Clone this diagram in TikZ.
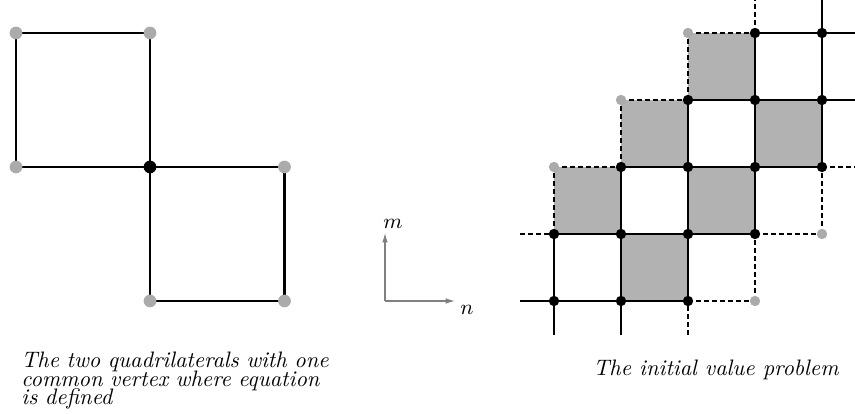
\documentclass[tikz,border=0pt]{standalone}
\usetikzlibrary{backgrounds,arrows.meta}
\begin{document}
\begin{tikzpicture}[x=0.0149254cm,y=-0.0149254cm,
  sedge/.style={line width=0.85pt,black},
  ledge/.style={line width=0.95pt,black,line join=miter},
  dedge/.style={line width=0.45pt,black,dash pattern=on 2pt off 1.4pt},
  bdot/.style={circle,fill=black,draw=none,inner sep=0pt,minimum size=4.4pt},
  gdot/.style={circle,fill=black!33,draw=none,inner sep=0pt,minimum size=4.4pt},
  lbdot/.style={bdot,minimum size=5.4pt},
  lgdot/.style={gdot,minimum size=5.4pt},
  cell/.style={fill=black!30,draw=none},
  axis/.style={draw=black!50,line width=0.5pt,-{Latex[length=4pt,width=2.4pt]}},
  captext/.style={inner sep=0pt,font=\fontsize{9.5}{7.8}\selectfont\itshape,
    execute at begin node={\lineskiplimit=-5pt\relax}},
  lbl/.style={inner sep=0pt,font=\fontsize{9.5}{11}\selectfont}
]
\useasboundingbox (0,0) rectangle (855,414);

% ---- left: two quadrilaterals with one common vertex
\node[lgdot] (a1) at (16,33) {};
\node[lgdot] (a2) at (150,33) {};
\node[lgdot] (a3) at (16,167) {};
\node[lbdot] (o)  at (150,167) {};
\node[lgdot] (b1) at (284.5,167) {};
\node[lgdot] (b2) at (150,301) {};
\node[lgdot] (b3) at (284.5,301) {};

% ---- right: lattice
\foreach \c in {0,...,4}{
  \foreach \r in {0,...,4}{
    \pgfmathtruncatemacro{\d}{\c-\r}
    \ifnum\d<-2
      \coordinate (p\c\r) at ({554+67*\c},{301-67*\r});
    \else\ifnum\d>3
      \coordinate (p\c\r) at ({554+67*\c},{301-67*\r});
    \else\ifnum\d=-2
      \node[gdot] (p\c\r) at ({554+67*\c},{301-67*\r}) {};
    \else\ifnum\d=3
      \node[gdot] (p\c\r) at ({554+67*\c},{301-67*\r}) {};
    \else
      \node[bdot] (p\c\r) at ({554+67*\c},{301-67*\r}) {};
    \fi\fi\fi\fi
  }
}
% free ends of the lattice lines
\coordinate (L0) at (520,301);
\coordinate (L1) at (520,234);
\coordinate (R2) at (856,167);
\coordinate (R3) at (856,100);
\coordinate (R4) at (856,33);
\coordinate (T3) at (755,-1);
\coordinate (T4) at (822,-1);
\coordinate (B0) at (554,335);
\coordinate (B1) at (621,335);
\coordinate (B2) at (688,335);

% ---- axes
\coordinate (ax) at (385,301);
\coordinate (axn) at (455,301);
\coordinate (axm) at (385,233);
\node[lbl] (lm) at (393,224) {$m$};
\node[lbl] (ln) at (467,310) {$n$};

% ---- captions
\node[captext,anchor=north west,text width=142pt,align=left] (capL) at (21,352)
  {The two quadrilaterals with one\\common vertex where equation\\is defined};
\node[captext,anchor=base east] (capR) at (839,376) {The initial value problem};

\begin{scope}[on background layer]
  % left squares
  \draw[ledge] (a1.center) -- (a2.center) -- (o.center) -- (a3.center) -- cycle;
  \draw[ledge] (o.center) -- (b1.center) -- (b3.center) -- (b2.center) -- cycle;

  % shaded cells
  \fill[cell] (p01.center) rectangle (p12.center);
  \fill[cell] (p12.center) rectangle (p23.center);
  \fill[cell] (p23.center) rectangle (p34.center);
  \fill[cell] (p10.center) rectangle (p21.center);
  \fill[cell] (p21.center) rectangle (p32.center);
  \fill[cell] (p32.center) rectangle (p43.center);

  % solid horizontal
  \draw[sedge] (L0) -- (p00.center) -- (p10.center) -- (p20.center);
  \draw[sedge] (p01.center) -- (p11.center) -- (p21.center) -- (p31.center);
  \draw[sedge] (p12.center) -- (p22.center) -- (p32.center) -- (p42.center);
  \draw[sedge] (p23.center) -- (p33.center) -- (p43.center) -- (R3);
  \draw[sedge] (p34.center) -- (p44.center) -- (R4);
  % solid vertical
  \draw[sedge] (B0) -- (p00.center) -- (p01.center);
  \draw[sedge] (B1) -- (p10.center) -- (p11.center) -- (p12.center);
  \draw[sedge] (p20.center) -- (p21.center) -- (p22.center) -- (p23.center);
  \draw[sedge] (p31.center) -- (p32.center) -- (p33.center) -- (p34.center);
  \draw[sedge] (p42.center) -- (p43.center) -- (p44.center) -- (T4);

  % dashed edges
  \draw[dedge] (p20.center) -- (p30.center);
  \draw[dedge] (L1) -- (p01.center);
  \draw[dedge] (p31.center) -- (p41.center);
  \draw[dedge] (p02.center) -- (p12.center);
  \draw[dedge] (p42.center) -- (R2);
  \draw[dedge] (p13.center) -- (p23.center);
  \draw[dedge] (p24.center) -- (p34.center);
  \draw[dedge] (p01.center) -- (p02.center);
  \draw[dedge] (p12.center) -- (p13.center);
  \draw[dedge] (B2) -- (p20.center);
  \draw[dedge] (p23.center) -- (p24.center);
  \draw[dedge] (p30.center) -- (p31.center);
  \draw[dedge] (p34.center) -- (T3);
  \draw[dedge] (p41.center) -- (p42.center);

  % axes
  \draw[axis] (ax) -- (axn);
  \draw[axis] (ax) -- (axm);
\end{scope}
\end{tikzpicture}
\end{document}
